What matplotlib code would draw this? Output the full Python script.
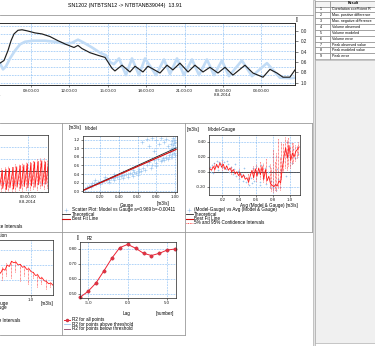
import matplotlib
matplotlib.use('Agg')
import matplotlib.pyplot as plt
from matplotlib.ticker import FixedLocator, MultipleLocator
from matplotlib.patches import Rectangle

plt.rcParams['font.family'] = ['Liberation Sans', 'DejaVu Sans']
plt.rcParams['font.size'] = 3.3

# ---- data ----
title = "SN1202 (NTBTSN12 -> NTBTANB39044)  13.91"

# top hydrograph (hours since 7-8-2014 00:00, values on the inverted right axis)
model_h = [5.64, 6.19, 6.58, 6.89, 7.20, 7.44, 7.67, 7.98, 8.30, 8.69,
           9.31, 9.86, 10.48, 11.11, 11.73, 12.36, 12.67, 12.98, 13.61, 14.23,
           14.78, 15.02, 15.33, 15.56, 16.11, 16.73, 17.13, 17.75, 18.14, 19.08,
           19.63, 20.09, 20.64, 21.27, 21.81, 22.44, 22.98, 23.61, 24.16, 24.78,
           25.72, 26.34, 27.13, 27.67, 28.22, 28.69, 29.23, 29.63]
model_v = [0.64, 0.62, 0.62, 0.57, 0.38, 0.19, 0.06, -0.01, -0.02, 0.00,
           0.04, 0.06, 0.11, 0.19, 0.26, 0.32, 0.28, 0.34, 0.42, 0.47,
           0.51, 0.60, 0.72, 0.77, 0.66, 0.79, 0.68, 0.79, 0.68, 0.81,
           0.66, 0.75, 0.62, 0.79, 0.66, 0.79, 0.70, 0.81, 0.70, 0.85,
           0.66, 0.81, 0.89, 0.74, 0.81, 0.89, 0.89, 0.75]
gauge_h = [5.64, 6.58, 6.81, 7.05, 7.36, 7.75, 8.14, 8.53, 9.16, 10.09,
           10.88, 11.66, 12.20, 12.67, 13.14, 13.77, 14.39, 14.86, 15.17, 15.48,
           15.88, 16.42, 16.89, 17.44, 17.91, 18.77, 19.39, 19.86, 20.41, 20.95,
           21.58, 22.13, 22.75, 23.30, 23.92, 24.47, 25.48, 26.27, 27.44, 28.45,
           29.23, 29.63]
gauge_v = [0.64, 0.62, 0.74, 0.68, 0.53, 0.38, 0.26, 0.21, 0.19, 0.19,
           0.21, 0.25, 0.23, 0.17, 0.23, 0.32, 0.42, 0.47, 0.60, 0.64,
           0.53, 0.85, 0.53, 0.85, 0.53, 0.85, 0.55, 0.83, 0.53, 0.85,
           0.55, 0.85, 0.55, 0.85, 0.57, 0.87, 0.57, 0.87, 0.62, 0.90,
           0.91, 0.90]
time_ticks = [6, 9, 12, 15, 18, 21, 24, 27]
time_labels = ["06:00:00\n7-8-2014", "09:00:00", "12:00:00", "15:00:00",
               "18:00:00", "21:00:00", "00:00:00\n8-8-2014", "03:00:00"]
right_ticks = [0.0, 0.2, 0.4, 0.6, 0.8, 1.0]
right_labels = ["0.0", "0.2", "0.4", "0.6", "0.8", "1.0"]

# model-gauge in time
diff_h = [15.0, 15.9, 16.0, 16.9, 17.0, 17.9, 18.0, 18.9, 19.0, 19.9,
          20.0, 20.9, 21.0, 21.9, 22.0, 22.9, 23.0, 23.9, 24.0, 24.9,
          25.0, 25.9, 26.0, 26.9, 27.0, 27.9, 28.0, 28.9, 29.0, 29.63]
diff_v = [-0.28, 0.00, -0.30, 0.01, -0.29, 0.03, -0.31, 0.04, -0.28, 0.06,
          -0.30, 0.07, -0.27, 0.09, -0.29, 0.10, -0.26, 0.12, -0.28, 0.13,
          -0.25, 0.15, -0.27, 0.16, -0.23, 0.17, -0.25, 0.15, -0.22, 0.08]
ci1_h = [15.5, 16.5, 17.5, 18.5, 19.5, 20.5, 21.5, 22.5, 23.5, 24.5, 25.5, 26.5, 27.5, 28.5, 29.3]
ci1_lo = [-0.33, -0.34, -0.33, -0.35, -0.33, -0.34, -0.32, -0.33, -0.31, -0.32, -0.30, -0.31, -0.29, -0.30, -0.28]
ci1_hi = [0.04, 0.05, 0.06, 0.08, 0.09, 0.11, 0.12, 0.14, 0.15, 0.17, 0.18, 0.20, 0.21, 0.22, 0.18]

# scatter model vs gauge
sc_gauge = [0.04, 0.06, 0.08, 0.10, 0.12, 0.14, 0.16, 0.18, 0.20, 0.22, 0.24, 0.26, 0.28, 0.30,
            0.32, 0.34, 0.36, 0.38, 0.40, 0.42, 0.44, 0.46, 0.48, 0.50, 0.52, 0.54, 0.56, 0.58,
            0.60, 0.62, 0.64, 0.10, 0.20, 0.30, 0.40, 0.50, 0.60, 0.35, 0.45, 0.55, 0.15, 0.25,
            0.35, 0.45, 0.55, 0.66, 0.70, 0.72, 0.75, 0.78, 0.80, 0.82, 0.85, 0.87, 0.88, 0.90,
            0.92, 0.94, 0.96, 0.97, 0.95, 0.96, 0.97, 0.98, 0.99, 1.00, 0.99, 0.98, 0.97, 0.96,
            1.00, 0.98, 0.99, 1.00, 0.70, 0.75, 0.80, 0.85, 0.90, 0.65, 0.72, 0.78, 0.83, 0.88,
            0.92, 0.86, 0.90, 0.94, 0.97, 0.62, 0.68, 0.74, 0.80]
sc_model = [0.06, 0.10, 0.12, 0.15, 0.18, 0.20, 0.17, 0.22, 0.24, 0.21, 0.27, 0.25, 0.29, 0.27,
            0.31, 0.30, 0.34, 0.32, 0.36, 0.35, 0.38, 0.37, 0.40, 0.39, 0.42, 0.41, 0.44, 0.43,
            0.46, 0.45, 0.48, 0.10, 0.17, 0.22, 0.29, 0.33, 0.38, 0.26, 0.31, 0.36, 0.26, 0.33,
            0.40, 0.45, 0.50, 0.55, 0.60, 0.68, 0.62, 0.72, 0.66, 0.75, 0.70, 0.78, 0.72, 0.80,
            0.76, 0.84, 0.80, 0.88, 0.92, 0.98, 1.02, 1.08, 1.12, 1.16, 1.20, 1.24, 1.18, 1.10,
            1.04, 0.96, 0.90, 0.85, 1.22, 1.25, 1.20, 1.24, 1.22, 1.15, 1.05, 0.95, 1.10, 1.15,
            1.05, 0.74, 0.77, 0.79, 0.80, 0.52, 0.50, 0.55, 0.58]
fit_x = [0.02, 1.01]
fit_a, fit_b = 0.969, -0.00411
gauge_ticks = [0.2, 0.4, 0.6, 0.8, 1.0]
gauge_labels = ["0.20", "0.40", "0.60", "0.80", "1.00"]
model_ticks = [0.0, 0.2, 0.4, 0.6, 0.8, 1.0, 1.2]
model_labels = ["0.0", "0.2", "0.4", "0.6", "0.8", "1.0", "1.2"]

# model-gauge vs average
avg_x = [0.05, 0.07, 0.09, 0.11, 0.13, 0.15, 0.17, 0.19, 0.21, 0.23, 0.25, 0.27, 0.29, 0.31,
         0.33, 0.35, 0.37, 0.39, 0.41, 0.43, 0.45, 0.47, 0.49, 0.51, 0.53, 0.55, 0.57, 0.59,
         0.61, 0.63, 0.65, 0.67, 0.69, 0.71, 0.73, 0.75, 0.77, 0.79, 0.81, 0.83, 0.85, 0.87,
         0.89, 0.91, 0.93, 0.95, 0.97, 0.99, 1.01, 1.03, 1.05, 1.07, 1.09, 1.11]
avg_d = [0.04, 0.02, 0.07, 0.03, 0.10, 0.05, 0.12, 0.06, 0.10, 0.03, 0.08, 0.02, 0.05, 0.00,
         0.03, -0.03, 0.00, -0.05, -0.02, -0.08, -0.04, -0.10, -0.08, -0.14, -0.05, 0.02, -0.08, 0.04,
         -0.06, 0.05, -0.04, 0.07, -0.10, 0.03, -0.12, -0.06, -0.16, -0.18, -0.20, -0.17, -0.19, -0.12,
         -0.15, 0.05, 0.20, 0.32, 0.18, 0.35, 0.15, 0.25, 0.20, 0.27, 0.30, 0.33]
ci3_x = [0.10, 0.20, 0.30, 0.40, 0.50, 0.56, 0.60, 0.64, 0.68, 0.72, 0.76, 0.78, 0.80, 0.82,
         0.84, 0.86, 0.88, 0.90, 0.92, 0.94, 0.96, 0.98, 1.00, 1.02, 1.04, 1.06, 1.08, 1.10]
ci3_lo = [0.00, 0.02, -0.03, -0.08, -0.16, -0.10, -0.12, -0.10, -0.14, -0.15, -0.22, -0.25, -0.27, -0.24,
          -0.26, -0.22, -0.24, -0.10, 0.00, 0.05, 0.02, 0.08, 0.05, 0.10, 0.12, 0.14, 0.18, 0.22]
ci3_hi = [0.12, 0.14, 0.08, 0.04, -0.02, 0.08, 0.10, 0.14, 0.12, 0.18, 0.10, 0.05, 0.30, 0.15,
          0.25, 0.45, 0.20, 0.40, 0.38, 0.46, 0.42, 0.47, 0.35, 0.40, 0.38, 0.36, 0.35, 0.40]
sc3_x = [0.05, 0.06, 0.08, 0.09, 0.10, 0.12, 0.13, 0.15, 0.16, 0.18, 0.19, 0.21, 0.22, 0.24,
         0.26, 0.28, 0.30, 0.32, 0.34, 0.36, 0.38, 0.40, 0.42, 0.44, 0.46, 0.48, 0.50, 0.52,
         0.54, 0.56, 0.58, 0.60, 0.62, 0.64, 0.66, 0.68, 0.70, 0.72, 0.74, 0.76, 0.78, 0.80,
         0.82, 0.84, 0.86, 0.88, 0.90, 0.92, 0.94, 0.96, 0.98, 1.00, 1.02, 1.04, 1.06, 1.08,
         1.10, 0.20, 0.25, 0.35, 0.45, 0.55, 0.65, 0.75, 0.85, 0.95]
sc3_y = [0.06, 0.00, 0.09, -0.02, 0.12, 0.08, 0.15, 0.02, 0.13, 0.10, 0.16, 0.07, 0.13, 0.04,
         0.10, 0.00, 0.07, -0.03, 0.04, -0.06, 0.01, -0.09, -0.03, -0.12, -0.06, -0.14, -0.10, -0.18,
         -0.08, 0.05, -0.12, 0.08, -0.02, -0.14, 0.09, -0.08, 0.05, -0.16, 0.00, -0.20, -0.12, -0.22,
         -0.18, -0.24, -0.10, -0.20, 0.02, 0.15, 0.28, 0.40, 0.22, 0.38, 0.12, 0.30, 0.18, 0.33,
         0.24, 0.20, 0.15, 0.10, 0.05, -0.15, -0.18, 0.08, 0.04, -0.05]
avg_ticks = [0.2, 0.4, 0.6, 0.8, 1.0]
avg_labels = ["0.2", "0.4", "0.6", "0.8", "1.0"]
d_ticks = [-0.2, 0.0, 0.2, 0.4]
d_labels = ["-0.20", "0.00", "0.20", "0.40"]

# model-gauge vs gauge (bottom left)
ga_x = [0.50, 0.55, 0.58, 0.61, 0.64, 0.67, 0.70, 0.73, 0.76, 0.79, 0.82, 0.85, 0.88, 0.91,
        0.94, 0.97, 1.00, 1.03, 1.06, 1.09, 1.12, 1.15, 1.18, 1.21, 1.24, 1.27, 1.30]
ga_y = [0.08, 0.12, 0.09, 0.15, 0.13, 0.20, 0.18, 0.25, 0.23, 0.24, 0.20, 0.21, 0.17, 0.18,
        0.14, 0.15, 0.11, 0.10, 0.06, 0.07, 0.02, 0.03, -0.01, -0.02, -0.05, -0.04, -0.07]
ca_x = [0.60, 0.66, 0.72, 0.78, 0.84, 0.90, 0.96, 1.02, 1.08, 1.14, 1.20, 1.26]
ca_lo = [0.00, 0.05, 0.02, 0.10, -0.02, 0.05, -0.05, 0.02, -0.10, -0.05, -0.12, -0.10]
ca_hi = [0.17, 0.22, 0.27, 0.26, 0.23, 0.20, 0.17, 0.12, 0.09, 0.05, 0.01, -0.03]

# R2 against lag
lag = [-6, -5, -4, -3, -2, -1, 0, 1, 2, 3, 4, 5, 6]
r2 = [0.475, 0.515, 0.571, 0.653, 0.738, 0.809, 0.831, 0.805, 0.771, 0.756, 0.771, 0.793, 0.800]
lag_ticks = [-5, 0, 5]
lag_labels = ["-5.0", "0.0", "5.0"]
r2_ticks = [0.5, 0.6, 0.7, 0.8]
r2_labels = ["0.50", "0.60", "0.70", "0.80"]

result_rows = ["Correlation coefficient R", "Max. positive difference", "Max. negative difference",
               "Volume observed", "Volume modeled", "Volume error", "Peak observed value",
               "Peak modeled value", "Peak error"]

GRID = '#3f95ee'
RED = '#ff1a1a'
LBLUE = '#9cc6ef'
W, H = 375, 346

fig = plt.figure(figsize=(W / 100, H / 100), dpi=100)
fig.patch.set_facecolor('white')

# pixel-space canvas for frames, table and loose texts
bg = fig.add_axes([0, 0, 1, 1], zorder=-5)
bg.set_xlim(0, W)
bg.set_ylim(H, 0)
bg.axis('off')


def px_axes(x0, y0, x1, y1):
    return fig.add_axes([x0 / W, 1 - y1 / H, (x1 - x0) / W, (y1 - y0) / H])


def style(ax, pad=0.6):
    for s in ax.spines.values():
        s.set_linewidth(0.5)
        s.set_color('#202020')
    ax.tick_params(length=1.5, width=0.4, pad=pad, labelsize=3.2, colors='#202020')
    ax.tick_params(which='minor', length=1.0, width=0.3)
    ax.grid(True, color=GRID, ls=(0, (1, 1.5)), lw=0.45)
    ax.set_axisbelow(True)


def txt(x, y, s, **kw):
    bg.text(x, y, s, fontsize=kw.pop('fontsize', 3.3), va='center', **kw)


# ---- panel frames ----
frame = dict(color='#9a9a9a', lw=0.6)
bg.plot([0, 313], [15, 15], **frame)
bg.plot([0, 312], [123, 123], **frame)
bg.plot([0, 312], [232, 232], **frame)
bg.plot([0, 185], [335, 335], **frame)
bg.plot([62, 62], [123, 335], **frame)
bg.plot([185, 185], [123, 335], **frame)
bg.plot([312, 312], [123, 232], **frame)

txt(125, 5, title, ha='center', fontsize=3.8)

# ---- result table ----
bg.add_patch(Rectangle((312.5, 0), 2.5, H, fc='#e4e4e4', ec='#a0a0a0', lw=0.4))
bg.add_patch(Rectangle((315, 59.5), 62, 283.5, fc='#f0f0f0', ec='#a0a0a0', lw=0.4))
row_h = 5.85
bg.add_patch(Rectangle((315, 0.5), 15, 6, fc='#f4f4f4', ec='#7a7a7a', lw=0.4))
bg.add_patch(Rectangle((330, 0.5), 47, 6, fc='#f4f4f4', ec='#7a7a7a', lw=0.4))
txt(353, 3.5, "Result", ha='center', fontsize=2.6, fontweight='bold')
for i, name in enumerate(result_rows):
    y0 = 6.5 + i * row_h
    bg.add_patch(Rectangle((315, y0), 15, row_h, fc='white', ec='#7a7a7a', lw=0.4))
    bg.add_patch(Rectangle((330, y0), 47, row_h, fc='white', ec='#7a7a7a', lw=0.4))
    txt(320, y0 + row_h / 2, str(i + 1), ha='left', fontsize=2.6)
    txt(332, y0 + row_h / 2, name, ha='left', fontsize=2.6)

# ---- top hydrograph ----
ax = px_axes(-12, 23, 295, 85)
ax.set_xlim(5.64, 29.63)
ax.set_ylim(-0.05, 1.85)
ax.yaxis.set_major_locator(MultipleLocator(0.25))
ax.xaxis.set_major_locator(FixedLocator(time_ticks))
ax.set_xticklabels(time_labels)
ax.xaxis.set_minor_locator(MultipleLocator(1))
style(ax, pad=1.2)
ax.tick_params(axis='y', left=False, labelleft=False)
ar = ax.twinx()
ar.set_ylim(1.04, -0.15)
ar.yaxis.set_major_locator(FixedLocator(right_ticks))
ar.set_yticklabels(right_labels)
ar.yaxis.set_minor_locator(MultipleLocator(0.1))
for s in ar.spines.values():
    s.set_linewidth(0.5)
    s.set_color('#202020')
ar.tick_params(length=1.8, width=0.4, pad=2.5, labelsize=3.3, colors='#202020')
ar.tick_params(which='minor', length=1.0, width=0.3)
ar.plot(gauge_h, gauge_v, color='#c2dcf6', lw=1.9, solid_joinstyle='round')
ar.plot(model_h, model_v, color='#1e1e1e', lw=0.85)
txt(296, 20, "[]", ha='left')

# ---- model-gauge over time (clipped at left) ----
a1 = px_axes(-38, 135, 48, 192)
a1.set_xlim(5.64, 29.63)
a1.set_ylim(-0.35, 0.6)
a1.xaxis.set_major_locator(FixedLocator([12, 24]))
a1.set_xticklabels(["12:00:00", "00:00:00\n8-8-2014"])
a1.xaxis.set_minor_locator(MultipleLocator(1))
a1.yaxis.set_major_locator(FixedLocator([-0.2, 0.0, 0.2, 0.4]))
style(a1, pad=1.0)
a1.tick_params(axis='y', labelleft=False)
a1.axhline(0, color='#202020', lw=0.5)
a1.vlines(ci1_h, ci1_lo, ci1_hi, colors=RED, linestyles=(0, (1, 1)), lw=0.5)
a1.plot(diff_h, diff_v, color=RED, lw=0.6)
txt(22, 227, "5% and 95% Confidence Intervals", ha='right')

# ---- scatter model vs gauge ----
a2 = px_axes(83, 136, 177, 192)
a2.set_xlim(0.02, 1.02)
a2.set_ylim(-0.02, 1.29)
a2.xaxis.set_major_locator(FixedLocator(gauge_ticks))
a2.set_xticklabels(gauge_labels)
a2.yaxis.set_major_locator(FixedLocator(model_ticks))
a2.set_yticklabels(model_labels)
style(a2)
a2.plot(sc_gauge, sc_model, ls='none', marker='+', ms=2.2, mew=0.4, color=LBLUE)
a2.plot(fit_x, fit_x, color='#202020', lw=0.6)
a2.plot(fit_x, [fit_a * v + fit_b for v in fit_x], color='#d01010', lw=0.9)
txt(69, 128, "[m3/s]", ha='left')
txt(85, 128, "Model", ha='left')
txt(127, 205.5, "Gauge", ha='center')
txt(163, 204, "[m3/s]", ha='center')

bg.plot([66], [210], ls='none', marker='+', ms=2.2, mew=0.4, color=LBLUE)
txt(72, 210, "Scatter Plot: Model vs Gauge a=0.969 b=-0.00411", ha='left')
bg.plot([62, 70], [214.3, 214.3], color='#202020', lw=0.6)
txt(72, 214.3, "Theoretical", ha='left')
bg.plot([62, 70], [218.6, 218.6], color='#d01010', lw=0.8)
txt(72, 218.6, "Best Fit Line", ha='left')

# ---- model-gauge vs average ----
a3 = px_axes(209, 135, 300, 195)
a3.set_xlim(0.04, 1.12)
a3.set_ylim(-0.31, 0.49)
a3.xaxis.set_major_locator(FixedLocator(avg_ticks))
a3.set_xticklabels(avg_labels)
a3.yaxis.set_major_locator(FixedLocator(d_ticks))
a3.set_yticklabels(d_labels)
style(a3)
a3.axhline(0, color='#202020', lw=0.5)
a3.plot(sc3_x, sc3_y, ls='none', marker='+', ms=2.0, mew=0.4, color=LBLUE)
a3.vlines(ci3_x, ci3_lo, ci3_hi, colors=RED, linestyles=(0, (1, 1)), lw=0.5)
a3.plot(avg_x, avg_d, color=RED, lw=0.6)
txt(187, 129, "[m3/s]", ha='left')
txt(208, 129, "Model-Gauge", ha='left')
txt(262, 205.5, "Avg (Model & Gauge)", ha='center')
txt(292, 205.5, "[m3/s]", ha='center')

bg.plot([189], [210], ls='none', marker='+', ms=2.2, mew=0.4, color=LBLUE)
txt(194, 210, "(Model-Gauge) vs Avg (Model & Gauge)", ha='left')
bg.plot([186, 193], [214.3, 214.3], color='#202020', lw=0.6)
txt(194, 214.3, "Theoretical", ha='left')
bg.plot([186, 193], [218.6, 218.6], color='#d01010', lw=0.8)
txt(194, 218.6, "Best Fit Line", ha='left')
bg.plot([186, 193], [222.9, 222.9], color=RED, lw=0.6, ls=(0, (1, 1)))
txt(194, 222.9, "5% and 95% Confidence Intervals", ha='left')

# ---- model-gauge vs gauge (bottom left, clipped) ----
a4 = px_axes(-38, 240, 53, 295)
a4.set_xlim(0.05, 1.3)
a4.set_ylim(-0.2, 0.533)
a4.xaxis.set_major_locator(FixedLocator([0.5, 1.0]))
a4.set_xticklabels(["0.5", "1.0"])
a4.yaxis.set_major_locator(FixedLocator([0.0, 0.2, 0.4]))
style(a4)
a4.tick_params(axis='y', labelleft=False)
a4.vlines(ca_x, ca_lo, ca_hi, colors=RED, linestyles=(0, (1, 1)), lw=0.5)
a4.plot(ga_x, ga_y, color=RED, lw=0.6)
txt(7, 236, "Model-Gauge Distribution", ha='right')
txt(9, 303, "Gauge", ha='right')
txt(47, 303, "[m3/s]", ha='center')
txt(7, 308, "(Model-Gauge) vs Gauge", ha='right')
txt(20, 320, "5% and 95% Confidence Intervals", ha='right')

# ---- R2 against lag ----
a5 = px_axes(80, 242, 176, 298)
a5.set_xlim(-6.02, 6.1)
a5.set_ylim(0.47, 0.847)
a5.xaxis.set_major_locator(FixedLocator(lag_ticks))
a5.set_xticklabels(lag_labels)
a5.yaxis.set_major_locator(FixedLocator(r2_ticks))
a5.set_yticklabels(r2_labels)
style(a5)
a5.plot(lag, r2, color='#ee2233', lw=0.7, marker='o', ms=2.4, mfc='#e83040', mec='#b02838', mew=0.3,
        clip_on=False)
txt(77, 238, "[]", ha='left')
txt(87, 238, "R2", ha='left')
txt(127, 313, "Lag", ha='center')
txt(165, 313, "[number]", ha='center')

bg.plot([64, 70], [320, 320], color='#ee2233', lw=0.7)
bg.plot([67], [320], marker='o', ms=2.2, mfc='#e83040', mec='#b02838', mew=0.3)
txt(72, 320, "R2 for all points", ha='left')
bg.plot([64, 70], [324.3, 324.3], color=LBLUE, lw=0.6)
txt(72, 324.3, "R2 for points above threshold", ha='left')
bg.plot([64, 70], [328.6, 328.6], color='#9a5a7a', lw=0.7)
txt(72, 328.6, "R2 for points below threshold", ha='left')

fig.savefig('out.png', dpi=100)
